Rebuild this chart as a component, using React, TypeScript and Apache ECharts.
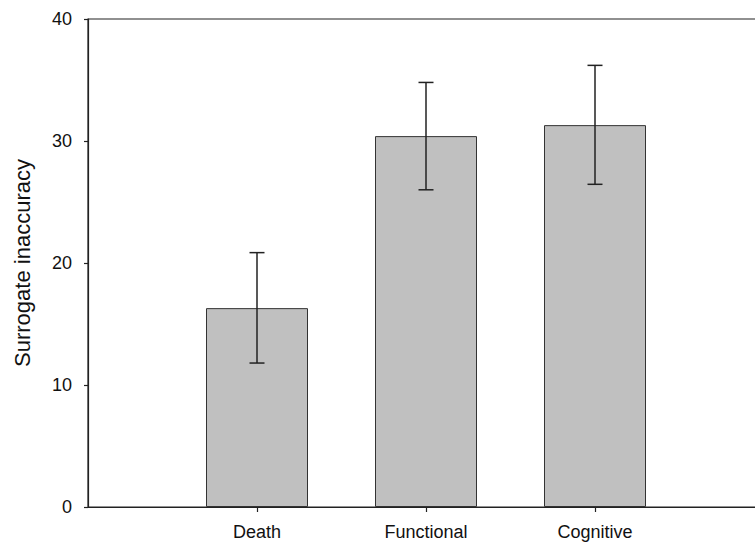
import React, { useEffect, useRef } from "react";
import * as echarts from "echarts";

const categories = ["", "Death", "Functional", "Cognitive", ""];
const means = [null, 16.3, 30.4, 31.3, null];
const errLow = [null, 11.8, 26.0, 26.45, null];
const errHigh = [null, 20.85, 34.8, 36.2, null];
const yTicks = [0, 10, 20, 30, 40];

export default function App() {
  const ref = useRef<HTMLDivElement>(null);
  useEffect(() => {
    document.body.style.margin = "0";
    const chart = echarts.init(ref.current!, null, { renderer: "svg" });
    const errData = categories
      .map((c, i) => (means[i] == null ? null : [i, errLow[i], errHigh[i]]))
      .filter((d) => d != null);
    chart.setOption({
      animation: false,
      backgroundColor: "#ffffff",
      textStyle: { fontFamily: "Liberation Sans, Arial, sans-serif" },
      grid: {
        left: 88,
        top: 19,
        width: 676,
        bottom: 40,
        outerBoundsMode: "none",
        containLabel: false,
        show: true,
        borderColor: "#222",
        borderWidth: 1.2,
        backgroundColor: "transparent",
      },
      xAxis: {
        type: "category",
        data: categories,
        boundaryGap: false,
        axisLine: { lineStyle: { color: "#222", width: 1.2 } },
        axisTick: {
          length: 5,
          interval: (idx: number, val: string) => val !== "",
          lineStyle: { color: "#222", width: 1.2 },
        },
        axisLabel: {
          interval: 0,
          fontSize: 18,
          color: "#111",
          margin: 16,
        },
        splitLine: { show: false },
      },
      yAxis: {
        type: "value",
        min: yTicks[0],
        max: yTicks[yTicks.length - 1],
        interval: 10,
        name: "Surrogate inaccuracy",
        nameLocation: "middle",
        nameGap: 55,
        nameTextStyle: { fontSize: 22, color: "#111" },
        axisLine: { show: true, lineStyle: { color: "#222", width: 1.2 } },
        axisTick: { show: true, length: 4, lineStyle: { color: "#222", width: 1.2 } },
        axisLabel: { fontSize: 18, color: "#111", margin: 16 },
        splitLine: { show: false },
      },
      series: [
        {
          type: "bar",
          data: means.map((v) => (v == null ? "-" : v)),
          barWidth: 102,
          itemStyle: { color: "#c0c0c0", borderColor: "#333", borderWidth: 1 },
        },
        {
          type: "custom",
          data: errData,
          z: 10,
          renderItem: (params: any, api: any) => {
            const x = api.value(0);
            const lo = api.coord([x, api.value(1)]);
            const hi = api.coord([x, api.value(2)]);
            const hw = 7.5;
            const style = { stroke: "#222", lineWidth: 1.5 };
            return {
              type: "group",
              children: [
                { type: "line", shape: { x1: hi[0], y1: hi[1], x2: lo[0], y2: lo[1] }, style },
                { type: "line", shape: { x1: hi[0] - hw, y1: hi[1], x2: hi[0] + hw, y2: hi[1] }, style },
                { type: "line", shape: { x1: lo[0] - hw, y1: lo[1], x2: lo[0] + hw, y2: lo[1] }, style },
              ],
            };
          },
        },
      ],
    });
    return () => chart.dispose();
  }, []);
  return <div ref={ref} style={{ width: 755, height: 547 }} />;
}
